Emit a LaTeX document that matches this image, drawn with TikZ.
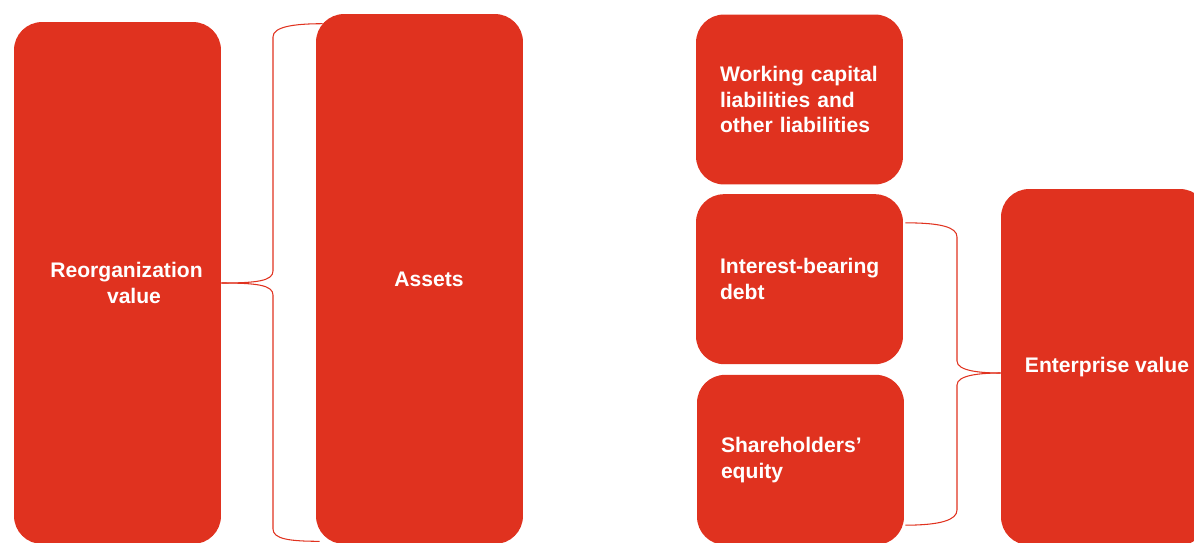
\documentclass[tikz,border=0pt]{standalone}
\usepackage{fontspec}
\setmainfont{Liberation Sans}
\usepackage{xcolor}
\usepackage{tikz}
\usetikzlibrary{positioning, calc}
\definecolor{boxred}{RGB}{224, 50, 31}
\tikzstyle{block} = [rectangle, rounded corners=0.56cm, minimum width=4.14cm, fill=boxred, text=white, font=\fontsize{12}{14.5}\selectfont\bfseries, inner sep=0pt]
\tikzstyle{leftblock} = [block, align=center]
\tikzstyle{rightblock} = [block, minimum height=3.4cm, text width=3.18cm, align=left]
\tikzstyle{brace} = [draw=boxred, line width=0.6pt]

\begin{document}
\begin{tikzpicture}[x=0.02cm, y=-0.02cm]

\useasboundingbox (0,0) rectangle (1194,542);

% Left side
\node[leftblock, minimum height=10.44cm] (reorg) at (117.5,283) {\hspace*{0.36cm}Reorganization\\\hspace*{0.66cm}value};
\node[leftblock, minimum height=10.6cm] (assets) at (419.5,279) {\hspace*{0.38cm}Assets};

% Right side
\node[rightblock] (wc) at (799.5,99.5) {Working capital\\liabilities and\\other liabilities};
\node[rightblock, below=0.18cm of wc] (debt) {\mbox{Interest-bearing}\\debt};
\node[rightblock, below=0.2cm of debt, xshift=0.02cm] (equity) {Shareholders'\\equity};
\node[leftblock, minimum height=7.12cm] (ev) at (1104.5,367) {\hspace*{0.1cm}Enterprise value};

% Braces
\draw[brace] (reorg.east) .. controls +(35,0) and +(0,10) .. (273,271) -- (273,37) .. controls +(0,-10) and +(-30,0) .. ($(assets.north west)+(7,10)$);
\draw[brace] (reorg.east) .. controls +(35,0) and +(0,-10) .. (273,295) -- (273,529) .. controls +(0,10) and +(-30,0) .. ($(assets.south west)+(4,-3)$);
\draw[brace] ($(debt.north east)+(2,29)$) .. controls +(35,0) and +(0,-10) .. (957,237) -- (957,361) .. controls +(0,10) and +(-20,0) .. ($(ev.west)+(0,6)$);
\draw[brace] ($(equity.south east)+(1,-20)$) .. controls +(35,0) and +(0,10) .. (957,510) -- (957,385) .. controls +(0,-10) and +(-20,0) .. ($(ev.west)+(0,6)$);

\end{tikzpicture}
\end{document}
